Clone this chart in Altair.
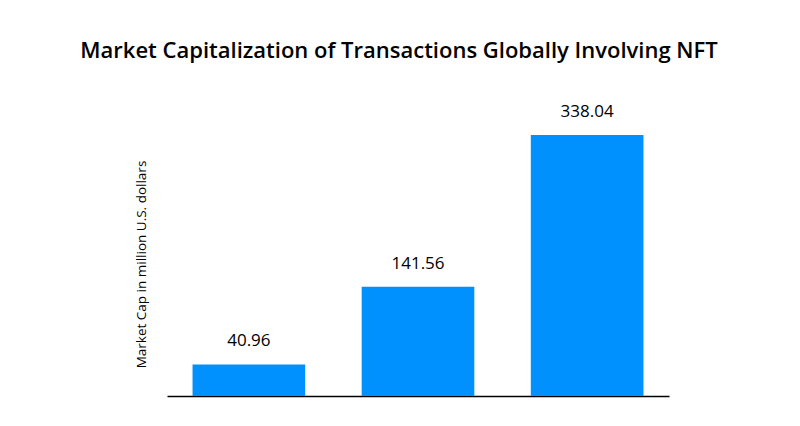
import altair as alt
import pandas as pd

categories = ["2018", "2019", "2020"]
values = [40.96, 141.56, 338.04]

df = pd.DataFrame({"year": categories, "value": values})

FONT = "Open Sans"

base = alt.Chart(df).encode(
    x=alt.X("year:N", sort=categories,
            scale=alt.Scale(paddingInner=0.334, paddingOuter=0.151),
            axis=alt.Axis(title=None, labels=False, ticks=False,
                          domainColor="#000000", domainWidth=1.5)),
    y=alt.Y("value:Q", scale=alt.Scale(domain=[0, 342], nice=False),
            axis=alt.Axis(title="Market Cap in million U.S. dollars", labels=False,
                          ticks=False, domain=False, grid=False,
                          titleFont=FONT, titleFontSize=13.5, titleFontWeight="normal",
                          titleColor="#000000", titlePadding=19)),
)

bars = base.mark_bar(color="#0091ff")
labels = base.mark_text(dy=-14, baseline="bottom", font=FONT, fontSize=17,
                        color="#000000").encode(text=alt.Text("value:Q", format=".2f"))

chart = (bars + labels).properties(
    width=502, height=264,
    title=alt.TitleParams("Market Capitalization of Transactions Globally Involving NFT",
                          font=FONT, fontSize=22, fontWeight=600, color="#000000",
                          anchor="middle", offset=40, dx=-19),
    autosize=alt.AutoSizeParams(type="none"),
    padding={"left": 167, "top": 132, "right": 130, "bottom": 30},
).configure_view(stroke=None)

chart.save("out.html", embed_options={"renderer": "svg", "actions": False})
